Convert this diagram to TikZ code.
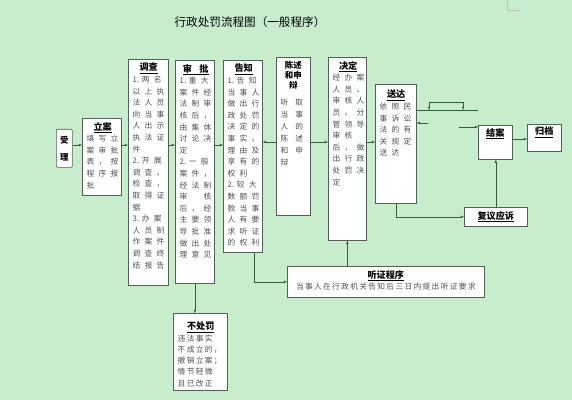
\documentclass[tikz,border=0pt]{standalone}
\usepackage{fontspec}
\usepackage{xcolor}

\newfontfamily\cjk{Noto Sans CJK SC}
\newfontfamily\cjkwide[LetterSpace=55]{Noto Sans CJK SC}
\newfontfamily\cjkxwide[LetterSpace=90]{Noto Sans CJK SC}
\newfontfamily\cjkmid[LetterSpace=17]{Noto Sans CJK SC}

\definecolor{eyegreen}{RGB}{199,237,204}
\definecolor{boxline}{RGB}{85,95,88}
\definecolor{linkgreen}{RGB}{45,95,55}
\definecolor{bodygray}{RGB}{80,80,80}

\newcommand{\steptitle}[1]{{\cjk\bfseries\fontsize{13}{16}\selectfont\color{black}\underline{#1}}}
\newcommand{\itemno}[1]{{\cjk #1}\kern4pt}

\begin{document}
\begin{tikzpicture}[x=0.5mm, y=-0.5mm,
    stepbox/.style={draw=boxline, line width=0.9pt, fill=white, inner sep=0pt, anchor=north west},
    steptext/.style={anchor=north west, inner sep=0pt, xshift=2.3mm, yshift=-2mm, text width=#1, align=left, text=bodygray, font=\cjkwide\fontsize{11}{16.5}\selectfont},
    link/.style={draw=linkgreen, line width=0.6pt, -latex}]

    % Draw background
    \fill[eyegreen] (0,0) rectangle (572,400);
    \useasboundingbox (0,0) rectangle (572,400);
    \draw[black!25, line width=0.4pt] (507,0) -- (507,10) -- (520,10);

    % Title
    \node[font=\cjk\fontsize{16.5}{20}\selectfont] (title) at (250,22) {行政处罚流程图（一般程序）};

    % Draw first steps
    \node[stepbox, minimum width=8mm, minimum height=19mm, rounded corners=1.5pt, align=center, font=\cjk\bfseries\fontsize{12}{24}\selectfont] (shouli) at (56,129) {受\\理};

    \node[stepbox, minimum width=19.5mm, minimum height=38.5mm] (lian) at (82,118) {};
    \node[steptext=16mm] (lian-t) at (lian.north west) {\hfill\steptitle{立案}\hfill\null\\
        填写立\\案审批\\表，按\\程序报\\批};

    \node[stepbox, minimum width=20mm, minimum height=113mm] (diaocha) at (128,59) {};
    \node[steptext=16mm] (diaocha-t) at (diaocha.north west) {\hfill\steptitle{调查}\hfill\null\\
        \itemno{1.}两名\\以上执\\法人员\\向当事\\人出示\\执法证\\件\\
        \itemno{2.}开展\\调查、\\检查，\\取得证\\据\\
        \itemno{3.}办案\\人员制\\作案件\\调查终\\结报告};

    \node[stepbox, minimum width=19.5mm, minimum height=111.5mm] (shenpi) at (175,60) {};
    \node[steptext=16mm] (shenpi-t) at (shenpi.north west) {\hfill\steptitle{审\hspace{0.8em}批}\hfill\null\\
        \itemno{1.}重大\\案件经\\法制审\\核后，\\由集体\\讨论决\\定\\
        \itemno{2.}一般\\案件，\\经法制\\审　核\\后，经\\主要领\\导批准\\做出处\\理意见};

    \node[stepbox, minimum width=19.5mm, minimum height=96mm] (gaozhi) at (223,60) {};
    \node[steptext=16mm] (gaozhi-t) at (gaozhi.north west) {\hfill\steptitle{告知}\hfill\null\\
        \itemno{1.}告知\\当事人\\做出行\\政处罚\\决定的\\事实、\\理由及\\享有的\\权利\\
        \itemno{2.}较大\\数额罚\\款当事\\人有要\\求听证\\的权利};

    % Statement box
    \node[stepbox, minimum width=17mm, minimum height=79mm] (chenshu) at (276,57) {};
    \node[anchor=north, inner sep=0pt, yshift=-2mm, align=center, font=\cjk\bfseries\fontsize{12}{14}\selectfont] (chenshu-t) at (chenshu.north) {陈述\\和申\\辩};
    \node[steptext=15mm, yshift=-19mm, font=\cjkxwide\fontsize{11}{17}\selectfont] (chenshu-b) at (chenshu.north west) {听取\\当事\\人的\\陈述\\和申\\辩};

    \node[stepbox, minimum width=19mm, minimum height=91.5mm] (jueding) at (328,57) {};
    \node[steptext=15.5mm] (jueding-t) at (jueding.north west) {\hfill\steptitle{决定}\hfill\null\\
        经办案\\人员、\\审核人\\员、分\\管领导\\审核\\后，做\\出行政\\处罚决\\定};

    \node[stepbox, minimum width=20.5mm, minimum height=59.5mm] (songda) at (375,84) {};
    \node[steptext=16.5mm, yshift=-1mm] (songda-t) at (songda.north west) {\hfill\steptitle{送达}\hfill\null\\
        依照民\\事诉讼\\法的有\\关规定\\送达};

    % Draw end steps
    \node[stepbox, minimum width=17mm, minimum height=17mm] (jiean) at (478,125) {};
    \node[anchor=north, inner sep=0pt, yshift=-1.5mm] (jiean-t) at (jiean.north) {\steptitle{结案}};

    \node[stepbox, minimum width=17mm, minimum height=13.5mm] (guidang) at (527,124) {};
    \node[anchor=north, inner sep=0pt, yshift=-1.5mm] (guidang-t) at (guidang.north) {\steptitle{归档}};

    \node[stepbox, minimum width=31.5mm, minimum height=9.5mm] (fuyi) at (464,207) {\steptitle{复议应诉}};

    % Draw side steps
    \node[stepbox, minimum width=98.5mm, minimum height=15.5mm] (tingzheng) at (287,266) {};
    \node[anchor=north, inner sep=0pt, yshift=-2mm, align=center, text=bodygray, font=\cjkmid\fontsize{11}{17}\selectfont] (tingzheng-t) at (tingzheng.north) {\steptitle{听证程序}\\
        当事人在行政机关告知后三日内提出听证要求};

    \node[stepbox, minimum width=27mm, minimum height=38.5mm] (buchufa) at (173,313) {};
    \node[steptext=23mm, yshift=-2.5mm, font=\cjkmid\fontsize{11}{16}\selectfont] (buchufa-t) at (buchufa.north west) {\hfill\steptitle{不处罚}\hfill\null\\
        违法事实\\不成立的，\\撤销立案；\\情节轻微\\且已改正};

    % Rows for the arrows
    \coordinate (mainrow) at (0,145);
    \coordinate (siderow) at (0,142);
    \coordinate (endrow) at (0,139);
    \coordinate (topline) at (478,110);
    \coordinate (brk-l) at (429,110);
    \coordinate (brk-r) at (463,110);
    \coordinate (stub-l) at (428,123);
    \coordinate (stub-r) at (459,127);

    % Draw main arrows
    \foreach \from/\to in {shouli/lian, lian/diaocha, diaocha/shenpi, shenpi/gaozhi}
        \draw[link] (\from.east |- mainrow) -- (\to.west |- mainrow);

    \draw[link] (chenshu.west |- siderow) -- (gaozhi.east |- siderow);
    \draw[link] (chenshu.east |- siderow) -- (jueding.west |- siderow);
    \draw[link] (jueding.east |- siderow) -- (songda.west |- siderow);

    % Top line with bracket
    \draw[link, -] (songda.east |- topline) -- (topline);
    \draw[link, latex-latex] (brk-l) -- ++(0,-8) -| (brk-r);
    \draw[link] (stub-l) -- (songda.east |- stub-l);
    \draw[link] (stub-r) -- (jiean.west |- stub-r);

    % Review and archive
    \draw[link] (songda.south) |- (fuyi.west);
    \draw[link] (fuyi.north) -- (fuyi.north |- jiean.south);
    \draw[link] (jiean.east |- endrow) -- (guidang.west |- endrow);

    % Branches down
    \draw[link] (shenpi.south) -- (shenpi.south |- buchufa.north);
    \draw[link] ([xshift=5.5mm]gaozhi.south) |- (tingzheng.west);
    \draw[link] (jueding.south |- tingzheng.north) -- (jueding.south);

\end{tikzpicture}
\end{document}
